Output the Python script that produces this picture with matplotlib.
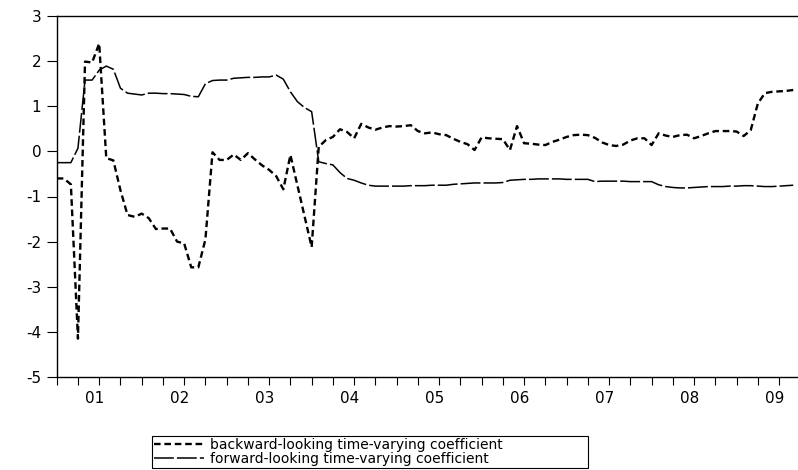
import numpy as np
import matplotlib.pyplot as plt

# monthly observations, 2000M07 .. 2009M03
start_year, start_month = 2000, 7

backward = [
    -0.60, -0.60, -0.73, -4.15, 1.99, 1.97, 2.39, -0.15, -0.20, -0.86,
    -1.41, -1.45, -1.38, -1.48, -1.72, -1.71, -1.71, -2.00, -2.04, -2.57,
    -2.57, -1.95, -0.02, -0.19, -0.19, -0.07, -0.19, -0.04, -0.18, -0.31,
    -0.41, -0.55, -0.84, -0.08, -0.76, -1.44, -2.12, 0.10, 0.25, 0.32,
    0.49, 0.43, 0.29, 0.61, 0.53, 0.48, 0.53, 0.56, 0.55, 0.56,
    0.58, 0.45, 0.40, 0.42, 0.38, 0.36, 0.28, 0.21, 0.16, 0.03,
    0.31, 0.29, 0.28, 0.27, 0.03, 0.56, 0.18, 0.17, 0.15, 0.14,
    0.21, 0.26, 0.32, 0.36, 0.37, 0.36, 0.30, 0.20, 0.14, 0.12,
    0.15, 0.24, 0.29, 0.29, 0.14, 0.40, 0.35, 0.32, 0.36, 0.37,
    0.29, 0.34, 0.40, 0.45, 0.45, 0.45, 0.44, 0.34, 0.47, 1.06,
    1.29, 1.32, 1.33, 1.34, 1.36,
]

forward = [
    -0.25, -0.25, -0.25, 0.07, 1.58, 1.58, 1.80, 1.89, 1.82, 1.40,
    1.29, 1.27, 1.25, 1.29, 1.29, 1.28, 1.28, 1.27, 1.26, 1.22,
    1.21, 1.50, 1.57, 1.58, 1.58, 1.62, 1.63, 1.64, 1.64, 1.65,
    1.65, 1.69, 1.60, 1.32, 1.10, 0.97, 0.88, -0.23, -0.27, -0.30,
    -0.47, -0.60, -0.64, -0.70, -0.75, -0.77, -0.77, -0.77, -0.77, -0.77,
    -0.76, -0.76, -0.76, -0.75, -0.75, -0.75, -0.73, -0.72, -0.71, -0.70,
    -0.70, -0.70, -0.70, -0.69, -0.64, -0.63, -0.62, -0.62, -0.61, -0.61,
    -0.61, -0.61, -0.62, -0.62, -0.62, -0.62, -0.67, -0.66, -0.66, -0.66,
    -0.66, -0.67, -0.67, -0.67, -0.67, -0.74, -0.78, -0.80, -0.81, -0.81,
    -0.80, -0.79, -0.78, -0.78, -0.78, -0.77, -0.77, -0.76, -0.76, -0.77,
    -0.78, -0.78, -0.77, -0.76, -0.75,
]

year_labels = ["01", "02", "03", "04", "05", "06", "07", "08", "09"]

plt.rcParams['font.family'] = ['DejaVu Sans']
plt.rcParams['axes.unicode_minus'] = False

fig = plt.figure(figsize=(7.98, 4.70), dpi=100)
ax = fig.add_axes([56.7 / 798, 1 - 377 / 470, 1.002 - 56.7 / 798, (377 - 16) / 470])

t = np.arange(len(backward))
l1, = ax.plot(t, backward, color='black', lw=1.7,
              label='backward-looking time-varying coefficient')
l1.set_dashes((2.8, 1.6))
l2, = ax.plot(t, forward, color='black', lw=1.1,
              label='forward-looking time-varying coefficient')
l2.set_dashes((13, 2))

ax.set_xlim(0, 104.9)
ax.set_ylim(-5, 3)
ax.set_yticks(range(-5, 4))
ax.tick_params(axis='y', direction='out', length=7, width=0.8, labelsize=11, pad=4)

# quarterly tick marks, year labels near each January
jan = [(13 - start_month) % 12 + 12 * k for k in range(len(year_labels))]
ax.set_xticks(np.arange(0, 105, 3), minor=True)
ax.set_xticks([j - 0.6 for j in jan])
ax.set_xticklabels(year_labels)
ax.tick_params(axis='x', which='minor', direction='out', length=6, width=0.8)
ax.tick_params(axis='x', which='major', length=0, labelsize=11, pad=10)

ax.spines['right'].set_visible(False)
for s in ('left', 'top', 'bottom'):
    ax.spines[s].set_linewidth(1.0)

# legend box spans 152..588 px, stretched with mode='expand'
leg = fig.legend(handles=[l1, l2], loc='upper left',
                 bbox_to_anchor=(152 / 798, 1 - 436 / 470, (588 - 152) / 798, 0.0),
                 mode='expand', borderaxespad=0,
                 fontsize=10, handlelength=3.6, handletextpad=0.4,
                 labelspacing=0.0, borderpad=0.15, fancybox=False,
                 edgecolor='black', framealpha=1)
leg.get_frame().set_linewidth(0.8)

fig.savefig("out.png", dpi=100)
